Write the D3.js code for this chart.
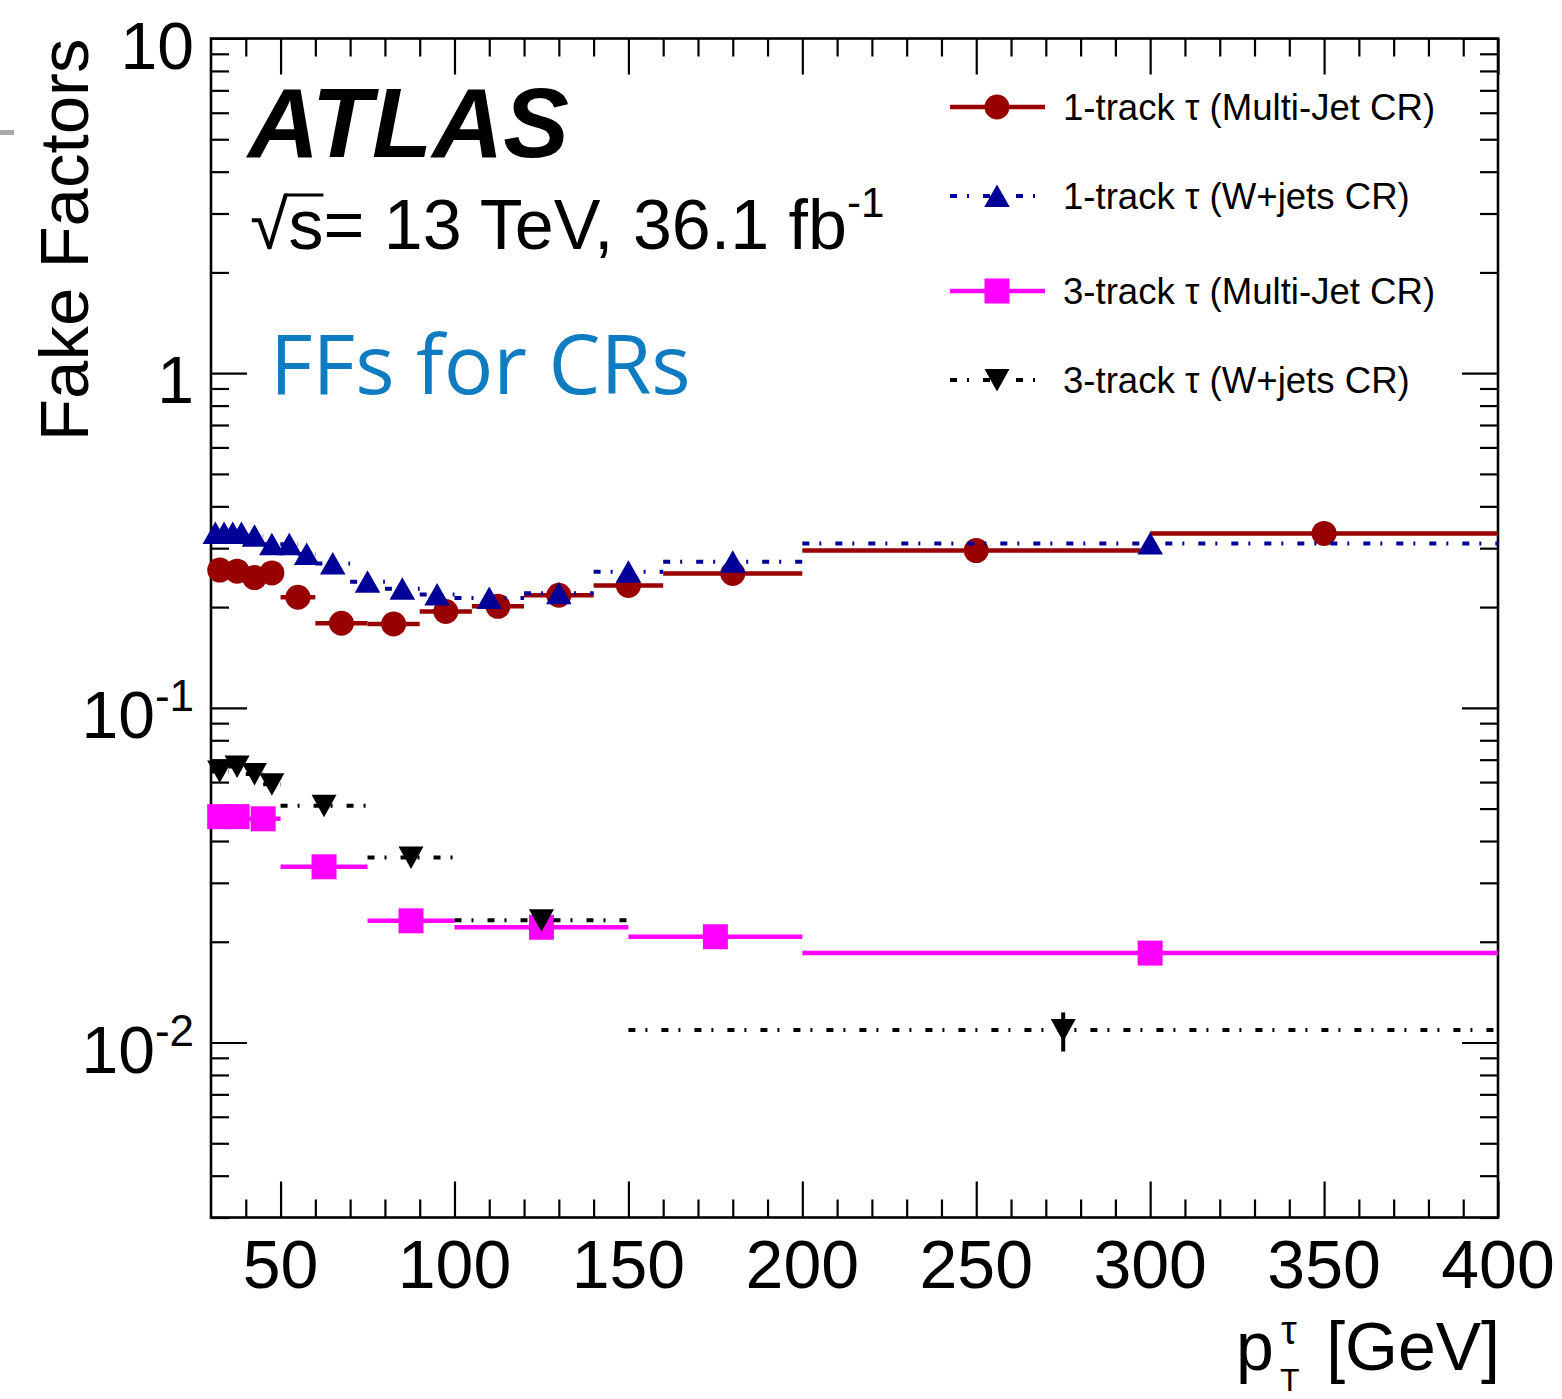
<!DOCTYPE html>
<html><head><meta charset="utf-8">
<script src="https://cdn.jsdelivr.net/npm/d3@7"></script>
<style>body{margin:0;background:#fff}</style>
</head><body>
<svg id="c" width="1562" height="1399"></svg>
<script>
// ---------------- data ----------------
const xMajorTicks = [50,100,150,200,250,300,350,400];
const xMinorTicks = [40,60,70,80,90,110,120,130,140,160,170,180,190,210,220,230,240,260,270,280,290,310,320,330,340,360,370,380,390];
const yMajorTicks = [0.01,0.1,1,10];
const yTickBase = ["10","1","10","10"];
const yTickExp  = ["","","-1","-2"];
const yTickVals = [10,1,0.1,0.01];

const seriesNames = ["1-track \u03c4 (Multi-Jet CR)","1-track \u03c4 (W+jets CR)","3-track \u03c4 (Multi-Jet CR)","3-track \u03c4 (W+jets CR)"];

const edges1TrkMJ = [30,35,40,45,50,60,75,90,105,120,140,160,200,300,400];
const ff1TrkMJ    = [0.258,0.256,0.245,0.253,0.214,0.179,0.178,0.194,0.201,0.217,0.232,0.252,0.295,0.332];

const edges1TrkW  = [30,32.5,35,37.5,40,45,50,55,60,70,80,90,100,120,140,160,200,400];
const ff1TrkW     = [0.333,0.333,0.333,0.333,0.327,0.308,0.308,0.288,0.270,0.238,0.227,0.218,0.213,0.220,0.255,0.273,0.310];

const edges3TrkMJ = [30,35,40,50,75,100,150,200,400];
const ff3TrkMJ    = [0.0473,0.0473,0.0466,0.0335,0.0231,0.0221,0.0207,0.0185];

const edges3TrkW  = [30,35,40,45,50,75,100,150,400];
const ff3TrkW     = [0.0645,0.0668,0.0634,0.0591,0.0510,0.0357,0.0232,0.0109];
const err3TrkWLo  = [0,0,0,0,0,0,0,0.0015];
const err3TrkWHi  = [0,0,0,0,0,0,0,0.0014];

// ---------------- setup ----------------
const svg = d3.select("#c");
svg.append("rect").attr("width",1562).attr("height",1399).attr("fill","#fff");
const L=211, R=1498, T=38.5, B=1217.5;
const x = d3.scaleLinear().domain([30,400]).range([L,R]);
const y = d3.scaleLog().domain([0.003,10]).range([B,T]);
const FONT = "'Liberation Sans', Arial, Helvetica, sans-serif";

// slide artifact at left edge
svg.append("rect").attr("x",0).attr("y",130).attr("width",14).attr("height",5).attr("fill","#a9a9a9");

// ---------------- axes ----------------
const yMinorTicks = [];
[-3,-2,-1,0].forEach(k=>{ for(let m=2;m<=9;m++){ const v=m*Math.pow(10,k); if(v>=0.003 && v<10) yMinorTicks.push(+v.toPrecision(3)); }});

function styleAxis(g){ g.select(".domain").remove(); g.selectAll("line").attr("stroke","#000").attr("stroke-width",2.2); g.selectAll("text").remove(); }

svg.append("g").attr("transform",`translate(0,${B})`).call(d3.axisBottom(x).tickValues(xMajorTicks).tickSizeInner(-36).tickSizeOuter(0)).call(styleAxis);
svg.append("g").attr("transform",`translate(0,${B})`).call(d3.axisBottom(x).tickValues(xMinorTicks).tickSizeInner(-18).tickSizeOuter(0)).call(styleAxis);
svg.append("g").attr("transform",`translate(0,${T})`).call(d3.axisTop(x).tickValues(xMajorTicks).tickSizeInner(-36).tickSizeOuter(0)).call(styleAxis);
svg.append("g").attr("transform",`translate(0,${T})`).call(d3.axisTop(x).tickValues(xMinorTicks).tickSizeInner(-18).tickSizeOuter(0)).call(styleAxis);
svg.append("g").attr("transform",`translate(${L},0)`).call(d3.axisLeft(y).tickValues(yMajorTicks).tickSizeInner(-36).tickSizeOuter(0)).call(styleAxis);
svg.append("g").attr("transform",`translate(${L},0)`).call(d3.axisLeft(y).tickValues(yMinorTicks).tickSizeInner(-18).tickSizeOuter(0)).call(styleAxis);
svg.append("g").attr("transform",`translate(${R},0)`).call(d3.axisRight(y).tickValues(yMajorTicks).tickSizeInner(-36).tickSizeOuter(0)).call(styleAxis);
svg.append("g").attr("transform",`translate(${R},0)`).call(d3.axisRight(y).tickValues(yMinorTicks).tickSizeInner(-18).tickSizeOuter(0)).call(styleAxis);

svg.append("rect").attr("x",L).attr("y",T).attr("width",R-L).attr("height",B-T)
  .attr("fill","none").attr("stroke","#000").attr("stroke-width",2.6);

// x tick labels
svg.append("g").selectAll("text").data(xMajorTicks).join("text")
  .attr("x",d=>x(d)).attr("y",B+70).attr("text-anchor","middle")
  .attr("font-family",FONT).attr("font-size",68).attr("fill","#000").text(d=>d);

// y tick labels
yTickVals.forEach((v,i)=>{
  const t = svg.append("text").attr("x",194).attr("y",y(v)+30).attr("text-anchor","end")
    .attr("font-family",FONT).attr("font-size",66).attr("fill","#000");
  t.append("tspan").text(yTickBase[i]);
  if(yTickExp[i]) t.append("tspan").attr("font-size",44).attr("dy",-27).text(yTickExp[i]);
});

// axis titles
svg.append("text").attr("transform",`translate(88,${T}) rotate(-90)`).attr("text-anchor","end")
  .attr("font-family",FONT).attr("font-size",69).attr("fill","#000").text("Fake Factors");
svg.append("text").attr("x",1500).attr("y",1370).attr("text-anchor","end")
  .attr("font-family",FONT).attr("font-size",68).attr("fill","#000").text("[GeV]");
svg.append("text").attr("x",1236).attr("y",1370).attr("font-family",FONT).attr("font-size",68).text("p");
svg.append("text").attr("x",1281).attr("y",1344).attr("font-family",FONT).attr("font-size",40).text("\u03c4");
svg.append("text").attr("x",1280).attr("y",1391).attr("font-family",FONT).attr("font-size",32).text("T");

// ---------------- series ----------------
const series = [
  {edges:edges1TrkMJ, vals:ff1TrkMJ, color:"#990000", dash:null, marker:"circle"},
  {edges:edges1TrkW,  vals:ff1TrkW,  color:"#000099", dash:"7,10,2,14", marker:"tri"},
  {edges:edges3TrkMJ, vals:ff3TrkMJ, color:"#ff00ff", dash:null, marker:"square"},
  {edges:edges3TrkW,  vals:ff3TrkW,  color:"#000000", dash:"7,10,2,14", marker:"tridown", lo:err3TrkWLo, hi:err3TrkWHi},
];
const markerPath = {
  circle: "M12.5,0A12.5,12.5 0 1,1 -12.5,0A12.5,12.5 0 1,1 12.5,0Z",
  tri: "M0,-11.5L12.8,11L-12.8,11Z",
  square: "M-12.5,-12.5H12.5V12.5H-12.5Z",
  tridown: "M-12.5,-11H12.5L0,11.5Z"
};
series.forEach(s=>{
  const bins = s.vals.map((v,i)=>({x0:s.edges[i], x1:s.edges[i+1], v, lo:s.lo?s.lo[i]:0, hi:s.hi?s.hi[i]:0}));
  const g = svg.append("g");
  g.selectAll("line.h").data(bins).join("line").attr("class","h")
    .attr("x1",d=>x(d.x0)).attr("x2",d=>x(d.x1)).attr("y1",d=>y(d.v)).attr("y2",d=>y(d.v))
    .attr("stroke",s.color).attr("stroke-width",s.dash?4:4.5).attr("stroke-dasharray",s.dash);
  g.selectAll("line.v").data(bins.filter(d=>d.lo>0||d.hi>0)).join("line").attr("class","v")
    .attr("x1",d=>x((d.x0+d.x1)/2)).attr("x2",d=>x((d.x0+d.x1)/2))
    .attr("y1",d=>y(d.v-d.lo)).attr("y2",d=>y(d.v+d.hi))
    .attr("stroke",s.color).attr("stroke-width",4);
  g.selectAll("path").data(bins).join("path")
    .attr("transform",d=>`translate(${x((d.x0+d.x1)/2)},${y(d.v)})`)
    .attr("d",markerPath[s.marker]).attr("fill",s.color);
});

// ---------------- legend ----------------
const legY = [107,196,291,380];
series.forEach((s,i)=>{
  const g = svg.append("g");
  g.append("line").attr("x1",950).attr("x2",1045).attr("y1",legY[i]).attr("y2",legY[i])
    .attr("stroke",s.color).attr("stroke-width",s.dash?4:4.5).attr("stroke-dasharray",s.dash);
  g.append("path").attr("transform",`translate(997,${legY[i]})`).attr("d",markerPath[s.marker]).attr("fill",s.color);
  g.append("text").attr("x",1063).attr("y",legY[i]+13).attr("font-family",FONT).attr("font-size",36.6)
    .attr("fill","#000").text(seriesNames[i]);
});

// ---------------- labels ----------------
svg.append("text").attr("x",248).attr("y",157).attr("font-family",FONT).attr("font-weight","bold")
  .attr("font-style","italic").attr("font-size",98.5).attr("fill","#000").text("ATLAS");

const ENFS = 70;
const en = svg.append("text").attr("x",250).attr("y",249).attr("font-family",FONT).attr("font-size",ENFS).attr("fill","#000");
const tRad = en.append("tspan").text("\u221a");
const tMain = en.append("tspan").text("s= 13 TeV, 36.1 fb");
en.append("tspan").attr("font-size",42).attr("dy",-32).text("-1");
const radW = tRad.node().getComputedTextLength();
const sW = tMain.node().getSubStringLength(0,1);
svg.append("line").attr("x1",250+radW-3).attr("x2",250+radW+sW).attr("y1",249-54).attr("y2",249-54)
  .attr("stroke","#000").attr("stroke-width",3);

svg.append("text").attr("x",270).attr("y",394).attr("font-family","'Open Sans', sans-serif")
  .attr("font-size",82.5).attr("fill","#0f7cc2").text("FFs for CRs");
</script>
</body></html>
